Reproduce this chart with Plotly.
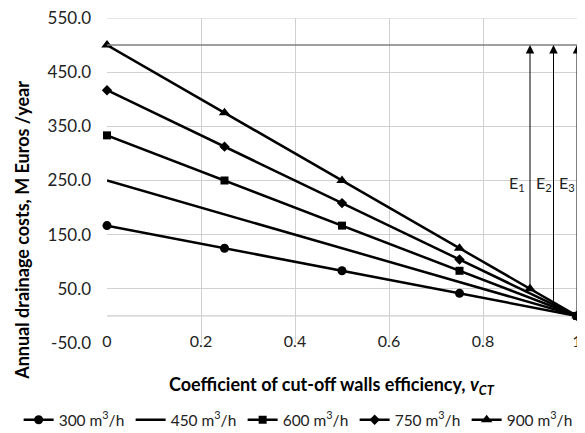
import plotly.graph_objects as go

# efficiency coefficient values
x_pts = [0, 0.25, 0.5, 0.75, 1]
x_900 = [0, 0.25, 0.5, 0.75, 0.9, 1]

q300 = [166.7, 125.0, 83.3, 41.7, 0.0]
q450 = [250.0, 187.5, 125.0, 62.5, 0.0]
q600 = [333.3, 250.0, 166.7, 83.3, 0.0]
q750 = [416.7, 312.5, 208.3, 104.2, 0.0]
q900 = [500.0, 375.0, 250.0, 125.0, 50.0, 0.0]

cap_level = 500
arrow_x = [0.9, 0.95, 1.0]
arrow_base = [50, 25, 0]
arrow_names = ["E<sub>1</sub>", "E<sub>2</sub>", "E<sub>3</sub>"]
arrow_label_x = [0.872, 0.93, 0.979]

y_ticks = [-50, 50, 150, 250, 350, 450, 550]
y_labels = ["-50.0", "50.0", "150.0", "250.0", "350.0", "450.0", "550.0"]
x_ticks = [0, 0.2, 0.4, 0.6, 0.8, 1]
x_labels = ["0", "0.2", "0.4", "0.6", "0.8", "1"]

FONT = "Lato, 'Open Sans', sans-serif"
GRID = "#d0d0d0"

fig = go.Figure()

series = [
    ("300 m<sup>3</sup>/h", x_pts, q300, "circle", 9),
    ("450 m<sup>3</sup>/h", x_pts, q450, None, 0),
    ("600 m<sup>3</sup>/h", x_pts, q600, "square", 8),
    ("750 m<sup>3</sup>/h", x_pts, q750, "diamond", 8),
    ("900 m<sup>3</sup>/h", x_900, q900, "triangle-up", 10),
]
for name, xs, ys, sym, size in series:
    fig.add_trace(go.Scatter(
        x=xs, y=ys, name=name,
        mode="lines+markers" if sym else "lines",
        line=dict(color="black", width=2.5),
        marker=dict(symbol=sym or "circle", size=size, color="black"),
        cliponaxis=False,
    ))

# top grid line, x axis line at 0 and the horizontal level at 500
fig.add_shape(type="line", xref="paper", yref="y", x0=0, x1=1, y0=y_ticks[-1], y1=y_ticks[-1],
              line=dict(color=GRID, width=1), layer="below")
fig.add_shape(type="line", xref="paper", yref="y", x0=0, x1=1, y0=0, y1=0,
              line=dict(color="#bfbfbf", width=1), layer="below")
fig.add_shape(type="line", xref="paper", yref="y", x0=0, x1=1, y0=cap_level, y1=cap_level,
              line=dict(color="#7f7f7f", width=1.5))

for xa, yb, lab, lx in zip(arrow_x, arrow_base, arrow_names, arrow_label_x):
    fig.add_annotation(x=xa, y=cap_level, ax=xa, ay=yb, axref="x", ayref="y",
                       showarrow=True, arrowhead=2, arrowsize=1.7, arrowwidth=1,
                       arrowcolor="black", text="")
    fig.add_annotation(x=lx, y=245, text=lab, showarrow=False,
                       font=dict(size=16, color="#222", family=FONT))

fig.add_annotation(xref="paper", yref="paper", x=0.479, y=-0.132, yanchor="middle",
                   text="<b>Coefficient of cut-off walls efficiency, <i>v</i><sub><i>CT</i></sub></b>",
                   showarrow=False, font=dict(size=18, color="black", family=FONT))
fig.add_annotation(xref="paper", yref="paper", x=-0.181, y=0.348, textangle=-90,
                   xanchor="center", yanchor="middle",
                   text="<b>Annual drainage costs, M Euros /year</b>",
                   showarrow=False, font=dict(size=18, color="black", family=FONT))

# the page body has an 8px margin, so the figure is 8px smaller than the window
fig.update_layout(
    width=577, height=425,
    margin=dict(l=99, r=8, t=10, b=90, autoexpand=False),
    plot_bgcolor="white", paper_bgcolor="white",
    font=dict(family=FONT, size=16, color="#222"),
    showlegend=True,
    legend=dict(orientation="h", x=-0.188, xanchor="left", y=-0.185, yanchor="top",
                font=dict(size=15.5), itemwidth=30, entrywidth=67, entrywidthmode="pixels",
                tracegroupgap=0, bgcolor="rgba(0,0,0,0)"),
    xaxis=dict(range=[0, 1], tickvals=x_ticks, ticktext=x_labels, showgrid=True,
               gridcolor=GRID, zeroline=False, showline=False, ticks="",
               ticklabelstandoff=-13, ticklabeloverflow="allow", tickfont=dict(size=16)),
    yaxis=dict(range=[-50, 550], tickvals=y_ticks, ticktext=y_labels, showgrid=True,
               gridcolor=GRID, zeroline=False, showline=False, ticks="",
               ticklabelstandoff=15, ticklabeloverflow="allow", tickfont=dict(size=17)),
)

fig.write_html("out.html")
